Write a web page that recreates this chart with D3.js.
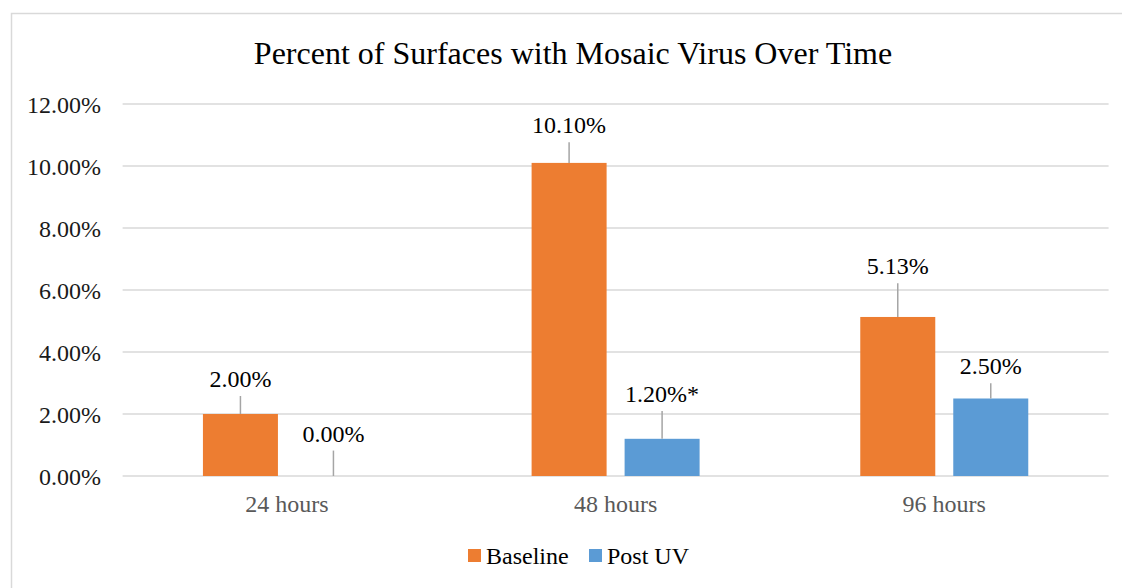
<!DOCTYPE html>
<html><head><meta charset="utf-8">
<script src="https://cdn.jsdelivr.net/npm/d3@7"></script>
<style>body{margin:0;background:#fff;} svg{display:block;} svg text{font-family:'Liberation Serif','Times New Roman',serif;}</style>
</head><body>
<svg id="c" width="1122" height="588"></svg>
<script>
const categories = ["24 hours", "48 hours", "96 hours"];
const seriesNames = ["Baseline", "Post UV"];
const baseline = [0.02, 0.101, 0.0513];
const postUV = [0.0, 0.012, 0.025];
const baselineErr = [0.0058, 0.0067, 0.0109];
const postUVErr = [0.0082, 0.009, 0.0049];
const baselineLabels = ["2.00%", "10.10%", "5.13%"];
const postUVLabels = ["0.00%", "1.20%*", "2.50%"];
const yTicks = [0, 0.02, 0.04, 0.06, 0.08, 0.10, 0.12];
const colors = ["#ED7D31", "#5B9BD5"];

(function() {
const series = [
  {name: seriesNames[0], values: baseline, err: baselineErr, labels: baselineLabels, color: colors[0]},
  {name: seriesNames[1], values: postUV, err: postUVErr, labels: postUVLabels, color: colors[1]}
];

const svg = d3.select("#c");

// chart border
svg.append("rect").attr("x", 11.5).attr("y", 13.5).attr("width", 1200).attr("height", 700)
  .attr("fill", "none").attr("stroke", "#d9d9d9").attr("stroke-width", 1.5);

// title
svg.append("text").attr("x", 573).attr("y", 63.5).attr("text-anchor", "middle")
  .style("font-size", "32px").attr("fill", "#000")
  .text("Percent of Surfaces with Mosaic Virus Over Time");

const pLeft = 122.6, pRight = 1108.6, pTop = 104, pBottom = 476;
const y = d3.scaleLinear().domain([0, 0.12]).range([pBottom, pTop]);
const x0 = d3.scaleBand().domain(categories).range([pLeft, pRight]).padding(0);
const step = x0.bandwidth();
const x1 = d3.scaleBand().domain(seriesNames)
  .range([(step - 168) / 2, (step + 168) / 2]).paddingInner(18 / 93).paddingOuter(0);

// gridlines
svg.append("g").selectAll("line").data(yTicks).join("line")
  .attr("x1", pLeft).attr("x2", pRight)
  .attr("y1", d => y(d)).attr("y2", d => y(d))
  .attr("stroke", "#d9d9d9").attr("stroke-width", 1.5);

// y axis labels
const yAxis = d3.axisLeft(y).tickValues(yTicks).tickFormat(d3.format(".2%")).tickSize(0).tickPadding(0);
const ya = svg.append("g").attr("transform", `translate(101,0)`).call(yAxis)
  .attr("font-family", null).attr("font-size", null);
ya.select(".domain").remove();
ya.selectAll("text").style("font-size", "24px").attr("fill", "#1a1a1a").attr("dy", "0.36em");

// x axis labels
const xAxis = d3.axisBottom(x0).tickSize(0).tickPadding(0);
const xa = svg.append("g").attr("transform", `translate(0,495)`).call(xAxis)
  .attr("font-family", null).attr("font-size", null);
xa.select(".domain").remove();
xa.selectAll("text").style("font-size", "24px").attr("fill", "#595959");

// bars
const groups = svg.append("g").selectAll("g").data(series).join("g");
groups.each(function(s) {
  const g = d3.select(this);
  const rows = categories.map((c, i) => ({c, v: s.values[i], e: s.err[i], l: s.labels[i]}));
  g.selectAll("rect").data(rows).join("rect")
    .attr("x", d => x0(d.c) + x1(s.name))
    .attr("y", d => y(d.v))
    .attr("width", x1.bandwidth())
    .attr("height", d => y(0) - y(d.v))
    .attr("fill", s.color);
  g.selectAll("line.err").data(rows).join("line").attr("class", "err")
    .attr("x1", d => x0(d.c) + x1(s.name) + x1.bandwidth() / 2)
    .attr("x2", d => x0(d.c) + x1(s.name) + x1.bandwidth() / 2)
    .attr("y1", d => y(d.v)).attr("y2", d => y(d.v + d.e))
    .attr("stroke", "#a5a5a5").attr("stroke-width", 1.5);
  g.selectAll("text").data(rows).join("text")
    .attr("x", d => x0(d.c) + x1(s.name) + x1.bandwidth() / 2)
    .attr("y", d => y(d.v + d.e) - 9)
    .attr("text-anchor", "middle")
    .style("font-size", "24px").attr("fill", "#000")
    .text(d => d.l);
});

// legend
const legend = svg.append("g");
const legendX = [468, 589];
series.forEach((s, i) => {
  legend.append("rect").attr("x", legendX[i]).attr("y", 549).attr("width", 13).attr("height", 13).attr("fill", s.color);
  legend.append("text").attr("x", legendX[i] + 18).attr("y", 563.5)
    .style("font-size", "24px").attr("fill", "#000").text(s.name);
});
})();
</script>
</body></html>
